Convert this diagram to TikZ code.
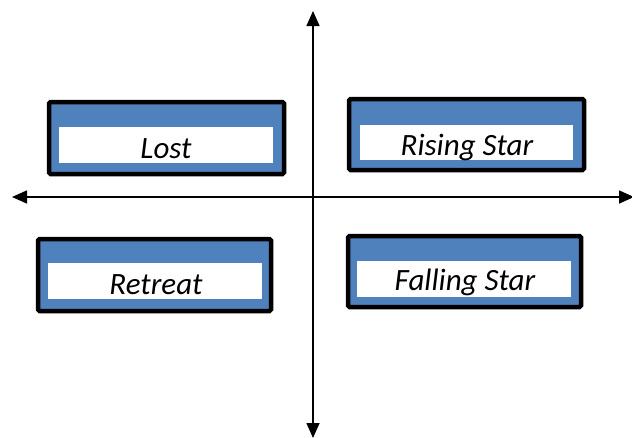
\documentclass[tikz,border=0pt]{standalone}
\usepackage{fontspec}
\setmainfont{Carlito}
\usetikzlibrary{arrows.meta}
\definecolor{qblue}{HTML}{4F81BD}
\tikzset{
  outerbox/.style={draw=black, line width=4.5pt, fill=qblue, rounded corners=1.5pt, inner sep=0pt},
  innerbox/.style={fill=white, draw=none, inner sep=0pt},
  label/.style={font=\fontsize{31}{36}\selectfont\itshape, anchor=base, inner sep=0pt},
  axis/.style={line width=1.6pt, -{Triangle[length=15pt,width=13pt]}}
}
\begin{document}
\begin{tikzpicture}[x=1pt,y=-1pt]
\useasboundingbox (0,0) rectangle (632,437);
% axes
\coordinate (c) at (313,197);
\coordinate (l) at (12,197);
\coordinate (r) at (634,197);
\coordinate (t) at (313,11);
\coordinate (b) at (313,438);
\draw[axis] (c) -- (l);
\draw[axis] (c) -- (r);
\draw[axis] (c) -- (t);
\draw[axis] (c) -- (b);
% Lost
\node[outerbox, minimum width=235pt, minimum height=72pt] (lostO) at (166.5,138) {};
\node[innerbox, minimum width=214pt, minimum height=36pt] (lostI) at (166,145) {};
\begin{scope}
\clip (lostI.south west) rectangle (lostI.north east);
\node[label] (lostT) at (166,158.5) {Lost};
\end{scope}
% Rising Star
\node[outerbox, minimum width=235pt, minimum height=71pt] (riseO) at (466.5,134.5) {};
\node[innerbox, minimum width=213pt, minimum height=35pt] (riseI) at (466.5,142.5) {};
\begin{scope}
\clip (riseI.south west) rectangle (riseI.north east);
\node[label] (riseT) at (467,155.5) {Rising Star};
\end{scope}
% Retreat
\node[outerbox, minimum width=233pt, minimum height=72pt] (retO) at (154.5,275) {};
\node[innerbox, minimum width=214pt, minimum height=36pt] (retI) at (155,281) {};
\begin{scope}
\clip (retI.south west) rectangle (retI.north east);
\node[label] (retT) at (156,294.5) {Retreat};
\end{scope}
% Falling Star
\node[outerbox, minimum width=233pt, minimum height=71pt] (fallO) at (464.5,271.5) {};
\node[innerbox, minimum width=214pt, minimum height=36pt] (fallI) at (464,279) {};
\begin{scope}
\clip (fallI.south west) rectangle (fallI.north east);
\node[label] (fallT) at (465,290.5) {Falling Star};
\end{scope}
\end{tikzpicture}
\end{document}
